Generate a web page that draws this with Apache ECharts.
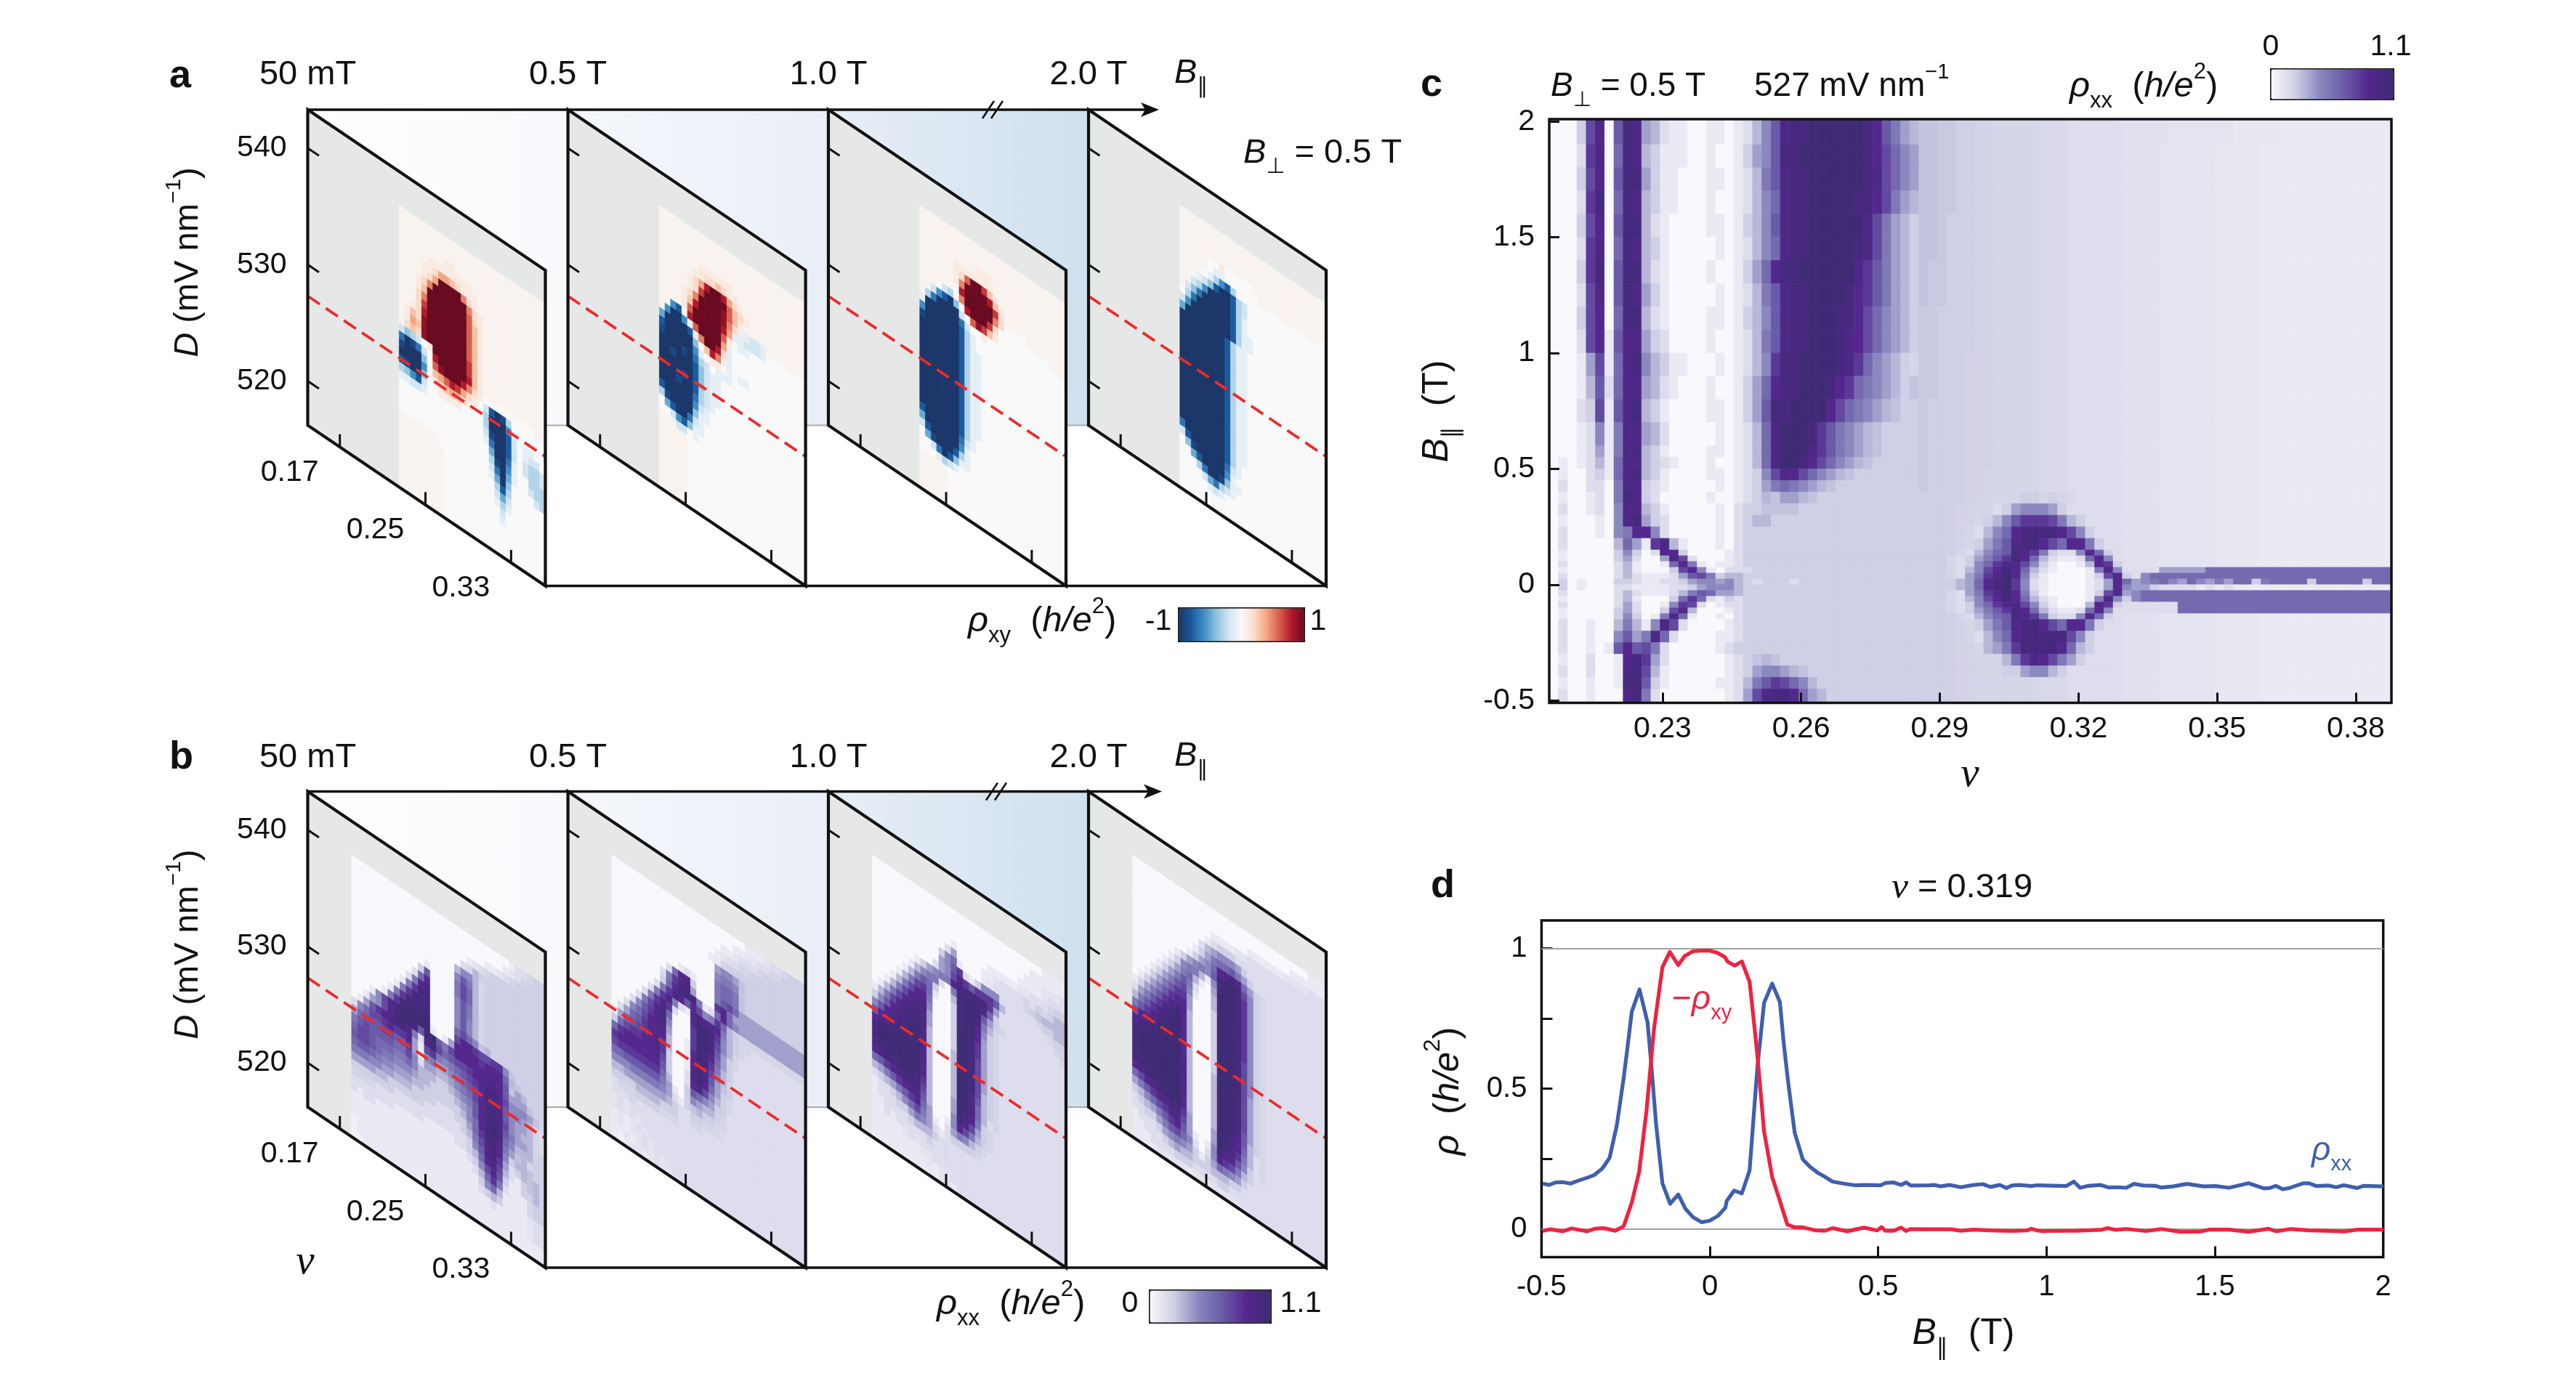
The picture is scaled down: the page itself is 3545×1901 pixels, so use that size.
<!DOCTYPE html>
<html>
<head>
<meta charset="utf-8">
<title>Figure</title>
<script src="https://cdn.jsdelivr.net/npm/echarts@6/dist/echarts.min.js"></script>
<style>
    html, body { margin: 0; background: #fff; }
    #main { width: 3545px; height: 1901px; }
</style>
</head>
<body>
<div id="main"></div>
<script>
// panel a, rho_xy: '.'=0 '-'=+0.04 A..J=+0.1..+1 a..j=-0.1..-1
var xyFrame50mT = [
    "------------- -------------", "------------- -------------", "------------- -------------",
    "--------AA--- -------------", "-----AAAAAAAA -------------", "----AABDDCBAA A------------",
    "----ABDJJJJEB A------------", "---ABEJJJJJJE BA-----------", "---ACJJJJJJJF BA-----------",
    "---BEJJJJJJJF CA-----------", "---BGJJJJJJJF CA-----------", "--ABHJJJJJJJF CA-----------",
    "-ACBIJJJJJJJF CA-----------", "-ADCIJJJJJJJF CA-----------", "-BCBIJJJJJJJG CA-----------",
    "bdcb.AJJJJJJG CA-----------", "gjigb.HJJJJJH CA-----------", "ijjjd.FIJJJHE BA.........--",
    "jjjjf.CDFHGDB A.bhjic......", "hijjd.ABCDCBA ..cjjjfa.....", "cdfhb..AAAA.. ..cjjjhb.aa..",
    "aabba........ ..bijjhb.abb.", "............. ..agjjhb.bccb", "............. ...ejjga.bccb",
    "............. ...cijfa..ccc", "............. ...bgjea..bcc", "-------...... ...aejd....bc",
    "--------..... ....chc......", "--------..... ....beb......", "--------..... ....aca......",
    "--------..... .....b.......", "--------..... .....a.......", "--------..... .............",
    "--------..... .............", "--------..... .............", "--------..... ............."
];
var xyFrame05T = [
    "------------- -------------", "------------- -------------", "------------- -------------",
    "------------- -------------", "-------AAAAAA -------------", "------AABBCBA A------------",
    "-----ABDHJJHD BA-----------", "-----ABGJJJJF CBA----------", "----ABEJJJJIF CA-----------",
    "----ACHJJJJIE Baabba-------", "----AFJJJJJHD aabbba.......", "--fh.HJJJJJFA .aa..........",
    "-fjjfaFJJJJDa .............", "ejjjjhaEJJHBa .............", "hjjjjjd.CHEAa .............",
    "ijjjjjfa.AA.a .aa..........", "jjjjijgcb.aaa .............", "jjijjjhdbaa.. .............",
    "jjjjjjhdbaa.. .............", "jjjjijhdbaa.. .............", "jjjijjhcbaa.. .............",
    "jjjjjjgcba... .............", "hjjjjjfba.... .............", "cijjjjdaa.... .............",
    ".ehjjgba..... .............", "..bfhdaa..... .............", "---bb.a...... .............",
    "-----........ .............", "-----........ .............", "-----........ .............",
    "-----........ .............", "-----........ .............", "-----........ .............",
    "-----........ .............", "-----........ .............", "-----........ ............."
];
var xyFrame10T = [
    "------------- -------------", "------------- -------------", "------------- -------------",
    "----------AAA -------------", "------AAAAAAA -------------", "------ABFJJGC A------------",
    "------AEJJJJH CA-----------", "------.HJJJJJ GB-----------", "---.bc.EJJJJJ EB....-------",
    "--bfhjd.HJJJG B.........---", "-cgjjjjb.FIGC A............", "ajjjjjjgb..A. .............",
    "fjjjjjjhca... .............", "ijjjjjjhca... .............", "jjjjjjjhcaa.. .............",
    "jjjjjjjhcaa.. .............", "jjjjjjjhcaa.. .............", "jjjjjjjhcaa.. .............",
    "jjjjjjjhcaa.. .............", "jjjjjjjhcaa.. .............", "jjjjjjjhcaa.. .............",
    "jjjjjjjhcaa.. .............", "jjjjjjjhcaa.. .............", "jjjjjjjhcaa.. .............",
    "jjjjjjjhcaa.. .............", "hjjjjjjhca... .............", "ejjjjjjgba... .............",
    "bhjjjjjfa.... .............", ".eijjjhca.... .............", "..bgjhdaa.... .............",
    "...acba...... .............", "-----........ .............", "-----........ .............",
    "-----........ .............", "-----........ .............", "-----........ ............."
];
var xyFrame20T = [
    "------------- -------------", "------------- -------------", "------------- -------------",
    "------------- -------------", "-----..A..... -------------", "-----.aa..... .-----------.",
    "----.acfhc... .............", "---abdhjjhcb. .............", "--bcfjjjjhcb. .............",
    "-bdgjjjjjhca. .............", ".cgjjjjjjhca. .............", "bfjjjjjjjhcaa .............",
    "ejjjjjjjjhcaa .............", "jjjjjjjjhcaa. .............", "jjjjjjjjhcaa. .............",
    "jjjjjjjjhcaa. .............", "jjjjjjjjhcaa. .............", "jjjjjjjjhcaa. .............",
    "jjjjjjjjhcaa. .............", "jjjjjjjjhcaa. .............", "jjjjjjjjhcaa. .............",
    "jjjjjjjjhcaa. .............", "jjjjjjjjhcaa. .............", "jjjjjjjjhcaa. .............",
    "jjjjjjjjhcaa. .............", "jjjjjjjjhcaa. .............", "jjjjjjjjhcaa. .............",
    "gjjjjjjjhcaa. .............", "bhjjjjjjhca.. .............", ".dijjjjjgba.. .............",
    "..ehjjjjfa... .............", "...cgjjidaa.. .............", "....begcba... .............",
    ".....aba..... .............", "............. .............", "............. ............."
];

// panel b, rho_xx: hex level 0..f = 0..1.1, other letters are in-between levels (fineLevels)
var xxFrame50mT = [
    "00000000 00000000 00000000 00122h33", "00000000 00000000 00000000 01g2h333", "00000000 00000000 00000011 g2h33333",
    "00000000 00000000 0001g2h3 33333333", "00000000 00000000 002h4333 33333333", "00000000 00000000 04664h33 33333333",
    "00000000 00000000 06974h33 33333333", "00000000 00001000 07a84h33 33333333", "00000000 00039000 07a84h33 33333333",
    "00000000 0028c000 06974h33 33333333", "00000000 027ce000 06974h33 33333333", "00000000 17bee000 06964h33 33333333",
    "00000001 7beee000 06964h33 33333333", "00000017 beeee000 08a86i43 33333333", "0000017b effff000 0accbaab b6i33333",
    "00016ade fffff101 5ccdcbcc c84i3333", "00156ace ffe9ff97 acccccdd c9i54333", "0159bcde ed72dfa8 9aabccdd c9555i33",
    "268aabcb bc51ab76 789abcee ca6665i3", "58999aa9 9b516755 6789acee c96654h2", "79a99998 8a625544 5678acee d96554h2",
    "8aa98887 78644433 45679cee da6544h2", "9aa98776 66544333 34569cef d97554h3", "89987665 55443333 33468cef d8644433",
    "77766554 44333322 23358bee c75i4h33", "55554433 33332222 22347ade c6344i33", "33333332 22222222 222369de b5234i43",
    "hhhh2222 22221111 122348cd a4213i43", "22222221 11111111 111236ac 93113343", "21221111 11111111 1111248b 72111h33",
    "11111111 11111111 11111368 41111h33", "11111111 11111111 11111234 31111g22", "11111111 11111111 11111112 11111g22",
    "m1111111 11111111 11111111 11111g22", "m1111111 11111111 11111111 11111111", "mm111111 11111111 11111111 11111111"
];
var xxFrame05T = [
    "00000000 00000000 00000011 1g22h333", "00000000 00000000 000011gg 22hh3333", "00000000 00000000 0011g222 h3333333",
    "00000000 00000000 01g22hh3 33333333", "00000000 00000000 11h33333 33333333", "00000000 00000000 05665i33 33333333",
    "00000000 00000000 06776i33 33333333", "00000000 00000000 07887i33 33333333", "00000000 00012100 07887i33 33333333",
    "00000000 028cd300 079a8555 55555555", "00000000 27bde500 0bc85555 55555555", "00000000 38ceee71 28c86555 55555555",
    "00000002 7bdc9ca6 7b843hhh hhhhhhhh", "00000027 bd721ded dc743hh2 22222222", "0000027b db200cff eb643h22 22222222",
    "000027ac e8000bff ea64h222 22222222", "000269bd e6000bff d953h222 22222222", "00268acd d5001bfe c8532222 22222222",
    "02589bcd c4001cfe b7432222 22222222", "1589abcd b4001cfd a64h2222 22222222", "38abbccd b3001dfd 95i32222 22222222",
    "8bcccccd a3002dfc 853h2222 22222222", "bccccccc 93002cda 643h2222 22222222", "abbbbbbb 84003986 53322222 22222222",
    "88999999 75103654 43h22222 22222222", "66677777 65213i43 3hh22222 22222222", "44555555 5432233h hh222222 22222222",
    "33334444 33322hh2 22222222 22222222", "2hhh3333 hhh22222 22222222 22222222", "222h2222 22222222 22222222 22222222",
    "g2g22222 22222222 22222222 22222222", "g2g2g222 22222222 22222222 22222222", "1g1g2g22 22222222 22222222 22222222",
    "1g1gg2g2 22222222 22222222 22222222", "11g1g2g2 g2222222 22222222 22222222", "1m1gg1g2 gg222222 22222222 22222222"
];
var xxFrame10T = [
    "00000000 00000000 00000000 00001111", "00000000 00000000 00000000 00111111", "00000000 00000000 00000000 0111ggg2",
    "00000000 00000000 00000000 1111g222", "00000000 00000100 00011111 gg222h33", "00000000 00002500 0011g222 2h23h344",
    "00000000 00036810 001g2222 2h3i4444", "00000000 000569b2 13666222 222h3344", "00000000 00256adb 9bbb9422 22222h33",
    "00000001 35677cee eeeb5222 222222h3", "00000014 677207ef fed83222 2222222h", "00000147 983004ef fe953h22 22222222",
    "0000147a b81003ef fd74h222 22222222", "000147ac c70003ef fc63h222 22222222", "00147acd d60003ef fc53h222 22222222",
    "0147acde d50003ff eb53h222 22222222", "147acdee d50003ff eb53h222 22222222", "369cdeef d40003ff ea53h222 22222222",
    "69cdeeff d40004ff ea53h222 22222222", "9cdeefff d40004ff ea53h222 22222222", "ceefffff d40004ff ea53h222 22222222",
    "efffffff d40004ff ea43h222 22222222", "efffffff c40004ff d943h222 22222222", "deffffff c40004ff d843h222 22222222",
    "cdeeeffe b40005ff d842h222 22222222", "89bcdeee a40005fe c73h2222 22222222", "4579bcdd 940006ed a53h2222 22222222",
    "234579bc 850016ca 743h2222 22222222", "1223468a 75102576 43h22222 22222222", "12223357 65212333 3h222222 22222222",
    "11222234 44322222 22222222 22222222", "11212222 23222222 22222222 22222222", "11111g2g 22222222 22222222 22222222",
    "11111111 gg222222 22222222 22222222", "11111111 1g1gg222 22222222 22222222", "11111111 111gg122 22222222 22222222"
];
var xxFrame20T = [
    "00000000 00000000 00000000 00000111", "00000000 00000000 00000000 00111111", "00000000 00000000 00011111 1gggg222",
    "00000000 00000111 1gg22222 22222222", "00000000 00001233 32222222 22222222", "00000000 00024566 65322222 22222222",
    "00000000 00135788 97532222 22222222", "00000000 013568cd ec853h22 22222222", "00000001 356769ef fea63h22 22222222",
    "00000013 677416ef feb63h22 22222222", "00000135 784105ff feb63h22 22222222", "00001357 972004ff feb63h22 22222222",
    "00013579 a61004ff feb63h22 22222222", "0013579b b50003ff feb63h22 22222222", "013579bc c50003ff feb63h22 22222222",
    "13579bde c40003ff feb63h22 22222222", "2579bdef c40003ff feb63h22 22222222", "479bdeff c40003ff fea63h22 22222222",
    "79bdefff c40003ff fea63h22 22222222", "9cdeffff c40003ff fea63h22 22222222", "ceefffff c40003ff fea63h22 22222222",
    "efffffff d40004ff fea53h22 22222222", "efffffff d40004ff fea53h22 22222222", "efffffff d40004ff fea53h22 22222222",
    "efffffff d40004ff fea53h22 22222222", "eeffffff d40004ff fea53h22 22222222", "cdefffff c40004ff fd953h22 22222222",
    "8acdefff c40004ff ec943h22 22222222", "579bcdee b50005ff ec842h22 22222222", "3468abdd a50005fe db742h22 22222222",
    "234579bc 951016ed c9632h22 22222222", "2233579a 862026cb a7432222 22222222", "12223567 65313587 65322222 22222222",
    "11222345 44333444 33222222 22222222", "11122223 33222233 22222222 22222222", "1111gggg g1gggggg gg222222 22222222"
];

// panel c, rho_xx: one string per row of cB, same levels as panel b
var cB = [2.01, 1.9, 1.8, 1.7, 1.6, 1.5, 1.4, 1.3, 1.2, 1.1, 1.0, 0.9, 0.8, 0.7, 0.6, 0.55, 0.5, 0.45, 0.4, 0.35, 0.3, 0.25, 0.2, 0.15,
    0.125, 0.1, 0.075, 0.05, 0.025, 0, -0.025, -0.05, -0.075, -0.1, -0.125, -0.15, -0.2, -0.25, -0.3, -0.35, -0.4, -0.45, -0.51];
var cRows = [
    "0003ad09ed 5421100110 12469deeff ffffec9754 iirr33qqhh hhhppp2222 22ooooogggg gggnnnnn11 11111111111",
    "0002bd08ed 4311100100 13569eefff ffffeca865 iirr33qqhh hhhppp2222 22ooooggg gggnnnnn11 11111111111",
    "0003ad09ee 5311000110 12479deeff ffffeda865 iirr33qqhh hhhppp2222 22ooooggg gggnnnnn11 11111111111",
    "0002be08ed 4311000100 12468deeff fffeeca754 iirr33qqhh hhhppp2222 22ooooggg gggnnnnn11 11111111111",
    "0003ad09ee 4210000110 13469deeff ffffda7543 iir333qqhh hhhppp2222 22ooooggg gggnnnnn11 11111111111",
    "0002bd08ed 4310000010 12468deeff fffeda7543 iir333qqhh hhhppp2222 22ooooggg gggnnnnn11 11111111111",
    "0003be09ee 4210000100 1358ceefff fffdb97543 irr333qqhh hhhppp2222 22ooooggg gggnnnnn11 11111111111",
    "0002ad09ed 5310000010 12479deeff ffecb97543 irr333qqhh hhhppp2222 22ooooggg gggnnnnn11 11111111111",
    "0003ac08ee 4210000110 13469deeff feeca86543 rr3333qqhh hhhppp2222 22ooooggg gggnnnnn11 11111111111",
    "0002ac19dd 5320000100 12479deeff fedca86543 rr3333qqhh hhhppp2222 22ooooggg gggnnnnn11 11111111111",
    "00015a18de 6431100010 1246beefff fedb86543h rr333qqqhh hhhppp2222 22ooooggg gggnnnnn11 11111111111",
    "00014928dd 5421000100 1358ceefff ecb876543i rr333qqqhh hhhppp2222 22ooooggg gggnnnnn11 11111111111",
    "00023a19de 4310000110 1359eeffff ca87654i33 r3333qqqhh hhhppp2222 22ooooggg gggnnnnn11 11111111111",
    "00012617dd 5420000010 1248dfffeb 97654i3333 r3333qqqhh hhhppp2222 22ooooggg gggnnnnn11 11111111111",
    "00012517de 4310000110 1248dfffdb 97654i3333 r3333qqqhh hhhppp2222 22ooooggg gggnnnnn11 11111111111",
    "01012418dd 4321000100 1248dffeca 8654i33333 r3333qqqhh hhhppp2222 22ooooggg gggnnnnn11 11111111111",
    "01002318de 4310000110 1236adca86 54i3333333 r3333qqhhh hhhppp2222 22ooooggg gggnnnnn11 11111111111",
    "02002207dd 3210000010 1235787654 i333333333 r3333qqhhh hhhppp2222 22ooooggg gggnnnnn11 11111111111",
    "01001207ed 3200000100 1234i554i3 3333333333 33333qqhhh h33h3hp222 22ooooggg gggnnnnn11 11111111111",
    "02001206dd 4310000010 233iiii333 3333333333 3333qqhh23 5666532222 22ooooggg gggnnnnn11 11111111111",
    "01000106de 5320000010 2344333333 3333333333 3333qqh346 9bbba74322 22ooooggg gggnnnnn11 11111111111",
    "020001067c c620000010 2333333333 3333333333 3333qh2468 ceeeeca632 22ooooggg gggnnnnn11 11111111111",
    "0200000485 1bd4100010 2333333333 3333333333 3333qh3579 deeca8cc73 22ooooggg gggnnnnn11 11111111111",
    "0100000363 02cc300001 2333333333 3333333333 3333h24689 edb73226c8 32ooooggg gggnnnnn11 11111111111",
    "0100000352 005da20001 2333333333 3333333333 333h23579b ec8421128c 62ooooggg gggnnnnn11 11111111111",
    "0200000241 0018c71011 2333333333 3333333333 333h2368bd da6310014c b3ooooggg gggnnnnn11 11111111111",
    "0100000241 0003ac6102 2233333333 3333333333 333h246ace c842100017 d622225555 5888888888 88888888888",
    "0200000242 111259a734 4333333333 3333333333 333h257bdf c731000013 ac32688888 8888888888 88888888888",
    "0301000332 1122356656 4323332333 3333333333 3333458cef b621000012 5d85678658 6575883788 88388888388",
    "0301000221 1112235666 4333333333 3333333333 3333458cef b621000012 5c65532222 1212111111 11111111111",
    "0200000242 1112479855 4333333333 3333333333 333h257bdf c731000013 ac56888888 8888888888 88888888888",
    "0100000241 00038b8213 2333333333 3333333333 333h246ace c842100017 d636888888 8888888888 88888888888",
    "0200000252 0016ba2012 2333333333 3333333333 333h2368bd da6310004c b322222288 8888888888 88888888888",
    "0100000352 003ac40001 2333333333 3333333333 333h23579b ec8421128c 6222222288 8888888888 88888888888",
    "0100000363 017d810010 2333333333 3333333333 3333h24689 edb73226c8 32ooooggg gggnnnnn11 11111111111",
    "0200100474 16da200001 2333333333 3333333333 3333qh3579 deeca8cc73 22ooooggg gggnnnnn11 11111111111",
    "0200100695 7d82000011 2333333333 3333333333 3333qh2468 ceeeeea632 22ooooggg gggnnnnn11 11111111111",
    "02001019c9 a720000012 3333333333 3333333333 3333qqh457 beeeec8432 22ooooggg gggnnnnn11 11111111111",
    "01002001ce b520000001 23i4i33333 3333333333 3333qqhhh4 7bdca75322 22ooooggg gggnnnnn11 11111111111",
    "02002001de a410000001 2356654i33 3333333333 3333qqhhh3 3566432222 22ooooggg gggnnnnn11 11111111111",
    "01001001ee 9310000011 2479ba8643 3333333333 3333qqhhhh hhhppp2222 22ooooggg gggnnnnn11 11111111111",
    "02001000de 7200000001 25adeec854 3333333333 3333qqhhhh hhhppp2222 22ooooggg gggnnnnn11 11111111111"
];

// panel d
var xxB = [-0.497, -0.477, -0.458, -0.436, -0.414, -0.392, -0.364, -0.344, -0.32, -0.298, -0.276, -0.256, -0.245, -0.232, -0.209, -0.185, -0.174, -0.16, -0.141, -0.118, -0.094, -0.072, -0.05, -0.024, 0, 0.024, 0.046, 0.05, 0.072, 0.095, 0.118, 0.13, 0.141, 0.161, 0.185, 0.208, 0.219, 0.232, 0.252, 0.276, 0.298, 0.32, 0.342, 0.364, 0.397, 0.43, 0.464, 0.508, 0.521, 0.546, 0.568, 0.583, 0.596, 0.651, 0.668, 0.684, 0.712, 0.745, 0.784, 0.811, 0.833, 0.861, 0.881, 0.897, 0.919, 0.955, 0.973, 1.058, 1.081, 1.1, 1.125, 1.161, 1.184, 1.206, 1.237, 1.26, 1.287, 1.323, 1.341, 1.376, 1.417, 1.466, 1.502, 1.542, 1.6, 1.645, 1.663, 1.681, 1.701, 1.721, 1.762, 1.78, 1.802, 1.838, 1.86, 1.883, 1.923, 1.941, 2];
var xxRho = [0.162, 0.157, 0.166, 0.167, 0.162, 0.172, 0.183, 0.192, 0.215, 0.253, 0.372, 0.539, 0.644, 0.774, 0.854, 0.736, 0.586, 0.377, 0.163, 0.09, 0.123, 0.071, 0.042, 0.024, 0.03, 0.047, 0.076, 0.1, 0.137, 0.127, 0.209, 0.4, 0.574, 0.806, 0.875, 0.809, 0.667, 0.528, 0.343, 0.248, 0.221, 0.201, 0.186, 0.169, 0.162, 0.156, 0.157, 0.156, 0.164, 0.166, 0.157, 0.166, 0.155, 0.156, 0.157, 0.152, 0.157, 0.149, 0.157, 0.16, 0.15, 0.157, 0.146, 0.155, 0.157, 0.153, 0.156, 0.153, 0.169, 0.147, 0.154, 0.157, 0.148, 0.149, 0.147, 0.161, 0.155, 0.154, 0.148, 0.152, 0.161, 0.152, 0.153, 0.147, 0.163, 0.145, 0.146, 0.154, 0.142, 0.146, 0.163, 0.163, 0.153, 0.155, 0.149, 0.156, 0.146, 0.154, 0.152];
var xyB = [-0.497, -0.475, -0.436, -0.411, -0.364, -0.342, -0.315, -0.281, -0.256, -0.232, -0.21, -0.188, -0.166, -0.141, -0.119, -0.094, -0.075, -0.05, -0.028, 0, 0.022, 0.044, 0.053, 0.074, 0.095, 0.118, 0.13, 0.141, 0.161, 0.185, 0.208, 0.23, 0.252, 0.276, 0.315, 0.342, 0.364, 0.408, 0.458, 0.497, 0.51, 0.521, 0.546, 0.568, 0.583, 0.596, 0.651, 0.717, 0.745, 0.784, 0.833, 0.866, 0.897, 0.942, 0.955, 0.973, 0.991, 1, 1.09, 1.161, 1.181, 1.206, 1.237, 1.296, 1.341, 1.399, 1.457, 1.484, 1.542, 1.6, 1.659, 1.681, 1.726, 1.78, 1.824, 1.883, 1.923, 2];
var xyRho = [-0.007, -0.001, -0.008, 0.002, -0.008, 0.001, 0.003, -0.006, 0.01, 0.094, 0.204, 0.424, 0.713, 0.933, 0.988, 0.941, 0.973, 0.99, 0.992, 0.992, 0.985, 0.97, 0.953, 0.939, 0.954, 0.881, 0.748, 0.62, 0.348, 0.186, 0.1, 0.016, 0.006, 0.006, -0.005, -0.006, 0.003, -0.008, 0.005, -0.005, 0.007, -0.006, -0.006, 0.005, -0.007, 0, -0.001, -0.001, -0.006, -0.002, -0.005, -0.006, -0.007, -0.005, 0.001, -0.005, -0.008, -0.007, -0.006, -0.003, 0.003, -0.003, 0, -0.007, 0, -0.01, -0.009, -0.002, -0.002, -0.01, 0.001, -0.008, 0, -0.005, -0.006, -0.009, -0.002, -0.002];

var frameLabels = ["50 mT", "0.5 T", "1.0 T", "2.0 T"];
var nuTicks = [0.17, 0.25, 0.33];
var dTicks = [520, 530, 540];
var cutD = 527.3;
var nuMin = 0.14, nuMax = 0.362, dMin = 516.2, dMax = 543.3;

// colours and layout
var purples = ['#f9f8fc', '#cfcfe5', '#8a88bf', '#6a5aa8', '#54278f', '#3f2a75'];
var rdbu = ['#1b3668', '#1a5a9e', '#3f8fc5', '#8fc2de', '#d3e5f1', '#f9f9f9', '#fbdccb', '#f4a582', '#d6604d', '#b2182b', '#6a0a20'];
var wallStops = [['#ffffff', '#f7f9fc'], ['#f5f7fb', '#e9eff7'], ['#e8eef7', '#cfe0ee']];
var frameLefts = [423.5, 781.6, 1140, 1498];
var frameW = 327, frameH = 434.5, frameShear = 221 / 327;
var rowTops = [151, 1089.5];
var ink = '#111';
var FONT = '"Liberation Sans", "DejaVu Sans"';
var fineLevels = { m: 0.5, n: 1.25, g: 1.5, o: 1.75, p: 2.25, h: 2.5, q: 2.75, r: 3.25, i: 3.5 };

function decodeXY(c) {
    if (c === '.') return 0;
    if (c === '-') return 0.04;
    if (c >= 'a') return -(c.charCodeAt(0) - 96) / 10;
    return (c.charCodeAt(0) - 64) / 10;
}
function decodeXX(c) {
    var lvl = fineLevels[c] !== undefined ? fineLevels[c] : parseInt(c, 16);
    return lvl / 15 * 1.1;
}
function parseFrame(rows, decode, nCols, nu0) {
    var dNu = (nuMax - nu0) / nCols, dD = (540.4 - dMin) / 36, out = [];
    rows.forEach(function (r, j) {
        r = r.replace(/ /g, '');
        for (var i = 0; i < nCols; i++) {
            out.push([nu0 + (i + 0.5) * dNu, 540.4 - (j + 0.5) * dD, decode(r.charAt(i) || r.charAt(r.length - 1))]);
        }
    });
    return { data: out, dNu: dNu, dD: dD };
}
function sheared(p, cs) {
    return [p[0], p[1] + (p[0] - cs.x) * frameShear];
}

var grids = [], xAxes = [], yAxes = [], series = [];
var heatA = [], heatB = [];

// sheared panels a and b
function addFrame(row, k, rows) {
    var gi = grids.length;
    grids.push({ left: frameLefts[k], top: rowTops[row], width: frameW, height: frameH });
    xAxes.push({ gridIndex: gi, type: 'value', min: nuMin, max: nuMax, show: false });
    yAxes.push({
        gridIndex: gi, type: 'value', min: dMin, max: dMax, show: k === 0,
        axisLine: { show: false }, axisTick: { show: false }, splitLine: { show: false },
        axisLabel: {
            customValues: dTicks, margin: 29, fontSize: 41, fontFamily: FONT, color: ink,
            padding: [0, 0, 13, 0]
        }
    });
    var anchor = [[nuMin, dMin]];

    series.push({
        type: 'custom', xAxisIndex: gi, yAxisIndex: gi, z: 1, silent: true, data: anchor,
        renderItem: function (params, api) {
            var cs = params.coordSys, tl = api.coord([nuMin, dMax]), bl = api.coord([nuMin, dMin]);
            var tr = sheared(api.coord([nuMax, dMax]), cs), br = sheared(api.coord([nuMax, dMin]), cs);
            var kids = [];
            if (k < 3) {
                var w = frameLefts[k + 1] - frameLefts[k];
                kids.push({
                    type: 'rect', shape: { x: tl[0], y: tl[1], width: w, height: bl[1] - tl[1] },
                    style: { fill: new echarts.graphic.LinearGradient(0, 0, 1, 0, [
                        { offset: 0, color: wallStops[k][0] }, { offset: 1, color: wallStops[k][1] }]) }
                });
                kids.push({
                    type: 'line', shape: { x1: bl[0] + frameW, y1: bl[1], x2: bl[0] + w, y2: bl[1] },
                    style: { stroke: '#aaa', lineWidth: 2 }
                });
            }
            kids.push({ type: 'polygon', shape: { points: [tl, tr, br, bl] }, style: { fill: '#e6e8e7' } });
            return { type: 'group', children: kids };
        }
    });

    var heat = parseFrame(rows, row === 0 ? decodeXY : decodeXX, row === 0 ? 26 : 32, row === 0 ? 0.2254 : 0.181);
    (row === 0 ? heatA : heatB).push(series.length);
    series.push({
        type: 'custom', xAxisIndex: gi, yAxisIndex: gi, z: 2, silent: true, data: heat.data,
        encode: { x: 0, y: 1 },
        renderItem: function (params, api) {
            var cs = params.coordSys, nu = api.value(0), d = api.value(1);
            var hx = heat.dNu / 2, hy = heat.dD / 2, color = api.visual('color');
            return {
                type: 'polygon',
                shape: { points: [
                    sheared(api.coord([nu - hx, d + hy]), cs), sheared(api.coord([nu + hx, d + hy]), cs),
                    sheared(api.coord([nu + hx, d - hy]), cs), sheared(api.coord([nu - hx, d - hy]), cs)
                ] },
                style: { fill: color, stroke: color, lineWidth: 0.7 }
            };
        }
    });

    series.push({
        type: 'custom', xAxisIndex: gi, yAxisIndex: gi, z: 3, silent: true, data: anchor,
        renderItem: function (params, api) {
            var cs = params.coordSys, tl = api.coord([nuMin, dMax]), bl = api.coord([nuMin, dMin]);
            var tr = sheared(api.coord([nuMax, dMax]), cs), br = sheared(api.coord([nuMax, dMin]), cs);
            var kids = [];
            function seg(a, b, w, col) {
                kids.push({
                    type: 'line', shape: { x1: a[0], y1: a[1], x2: b[0], y2: b[1] },
                    style: { stroke: col || ink, lineWidth: w }
                });
            }
            // wall top and floor front
            if (k < 3) {
                var w = frameLefts[k + 1] - frameLefts[k];
                seg(tl, [tl[0] + w, tl[1]], 3.4);
                seg(br, [br[0] + w, br[1]], 3.6);
            }
            dTicks.forEach(function (v) {
                seg(sheared(api.coord([nuMin, v]), cs), sheared(api.coord([nuMin + 0.0105, v]), cs), 3);
            });
            nuTicks.forEach(function (v) {
                seg(sheared(api.coord([v, dMin]), cs), sheared(api.coord([v, dMin + 1.1]), cs), 3);
                if (k === 0) {
                    var p = sheared(api.coord([v, dMin]), cs);
                    kids.push({
                        type: 'text', x: p[0] - 69, y: p[1] + 35,
                        style: { text: String(v), font: '41px ' + FONT, fill: ink, textAlign: 'center', textVerticalAlign: 'middle' }
                    });
                }
            });
            kids.push({
                type: 'line',
                shape: { x1: tl[0], y1: api.coord([nuMin, cutD])[1], x2: tr[0], y2: sheared(api.coord([nuMax, cutD]), cs)[1] },
                style: { stroke: '#ee2a2a', lineWidth: 3.8, lineDash: [20, 10] }
            });
            kids.push({ type: 'polygon', shape: { points: [tl, tr, br, bl] }, style: { stroke: ink, lineWidth: 4.2, fill: 'none', lineJoin: 'miter' } });
            return { type: 'group', children: kids };
        }
    });
}
[xyFrame50mT, xyFrame05T, xyFrame10T, xyFrame20T].forEach(function (rows, k) { addFrame(0, k, rows); });
[xxFrame50mT, xxFrame05T, xxFrame10T, xxFrame20T].forEach(function (rows, k) { addFrame(1, k, rows); });

// panel c
var cGrid = grids.length;
var cNu0 = 0.2055, cNuStep = 0.002, cNuEnd = 0.3877;
grids.push({ left: 2132, top: 164, width: 1159, height: 803.5 });
xAxes.push({
    gridIndex: cGrid, type: 'value', min: cNu0, max: cNuEnd, splitLine: { show: false }, z: 5,
    axisLine: { show: false, onZero: false },
    axisTick: { inside: true, length: 14, customValues: [0.23, 0.26, 0.29, 0.32, 0.35, 0.38], lineStyle: { color: ink, width: 3 } },
    axisLabel: { customValues: [0.23, 0.26, 0.29, 0.32, 0.35, 0.38], margin: 16, fontSize: 41, fontFamily: FONT, color: ink }
});
yAxes.push({
    gridIndex: cGrid, type: 'value', min: -0.51, max: 2.01, splitLine: { show: false }, z: 5,
    axisLine: { show: false, onZero: false },
    axisTick: { inside: true, length: 14, customValues: [-0.5, 0, 0.5, 1, 1.5, 2], lineStyle: { color: ink, width: 3 } },
    axisLabel: { customValues: [-0.5, 0, 0.5, 1, 1.5, 2], margin: 20, fontSize: 41, fontFamily: FONT, color: ink }
});
var cData = [];
cRows.forEach(function (r, j) {
    r = r.replace(/ /g, '');
    for (var i = 0; i < 91; i++) {
        var nu = cNu0 + i * cNuStep;
        cData.push([nu, Math.min(nu + cNuStep, cNuEnd), cB[j + 1], cB[j], decodeXX(r.charAt(i) || '1')]);
    }
});
var heatC = series.length;
series.push({
    type: 'custom', xAxisIndex: cGrid, yAxisIndex: cGrid, z: 2, silent: true, data: cData,
    encode: { x: [0, 1], y: [2, 3] },
    renderItem: function (params, api) {
        var a = api.coord([api.value(0), api.value(3)]), b = api.coord([api.value(1), api.value(2)]);
        var color = api.visual('color');
        return {
            type: 'rect', shape: { x: a[0], y: a[1], width: b[0] - a[0], height: b[1] - a[1] },
            style: { fill: color, stroke: color, lineWidth: 0.7 }
        };
    }
});
series.push({
    type: 'custom', xAxisIndex: cGrid, yAxisIndex: cGrid, z: 3, silent: true, data: [[cNu0, -0.51]],
    renderItem: function (params, api) {
        var a = api.coord([cNu0, 2.01]), b = api.coord([cNuEnd, -0.51]);
        return {
            type: 'rect', shape: { x: a[0], y: a[1], width: b[0] - a[0], height: b[1] - a[1] },
            style: { fill: 'none', stroke: ink, lineWidth: 3.5 }
        };
    }
});

// panel d
var dGrid = grids.length;
grids.push({ left: 2121.4, top: 1267, width: 1158.3, height: 463.4, show: true, borderColor: ink, borderWidth: 3.5, backgroundColor: 'transparent' });
xAxes.push({
    gridIndex: dGrid, type: 'value', min: -0.5, max: 2, interval: 0.5, splitLine: { show: false },
    axisLine: { show: false, onZero: false },
    axisTick: { inside: true, length: 15, lineStyle: { color: ink, width: 3 } },
    axisLabel: { margin: 22, fontSize: 40, fontFamily: FONT, color: ink }
});
yAxes.push({
    gridIndex: dGrid, type: 'value', min: -0.1, max: 1.1, splitLine: { show: false },
    axisLine: { show: false, onZero: false },
    axisTick: { inside: true, length: 15, customValues: [0, 0.25, 0.5, 0.75, 1], lineStyle: { color: ink, width: 3 } },
    axisLabel: { customValues: [0, 0.5, 1], margin: 20, fontSize: 40, fontFamily: FONT, color: ink }
});
function zip(xs, ys) {
    return xs.map(function (x, i) { return [x, ys[i]]; });
}
series.push({
    type: 'line', xAxisIndex: dGrid, yAxisIndex: dGrid, z: 2, silent: true, data: [], symbol: 'none',
    markLine: {
        silent: true, symbol: 'none', animation: false, z: 1, label: { show: false },
        lineStyle: { color: '#a0a0a0', width: 2, type: 'solid' },
        data: [{ yAxis: 0 }, { yAxis: 1 }]
    }
});
series.push({
    type: 'line', xAxisIndex: dGrid, yAxisIndex: dGrid, z: 3, silent: true, data: zip(xxB, xxRho), symbol: 'none',
    lineStyle: { color: '#3f5fae', width: 5.2, join: 'round' }
});
series.push({
    type: 'line', xAxisIndex: dGrid, yAxisIndex: dGrid, z: 4, silent: true, data: zip(xyB, xyRho), symbol: 'none',
    lineStyle: { color: '#ee2340', width: 5.2, join: 'round' }
});

// text with sub and superscripts
function richSet(size) {
    var small = Math.round(size * 0.64);
    var lh = Math.round(size * 1.45);
    return {
        t: { fontSize: size, fontFamily: FONT, lineHeight: lh },
        i: { fontSize: size, fontFamily: FONT, fontStyle: 'italic', lineHeight: lh },
        n: { fontSize: size * 1.1, fontFamily: '"Liberation Serif"', fontStyle: 'italic', lineHeight: lh },
        sub: { fontSize: small, fontFamily: FONT, verticalAlign: 'bottom', lineHeight: Math.round(size * 0.95) },
        sup: { fontSize: small, fontFamily: FONT, verticalAlign: 'top', lineHeight: Math.round(size * 0.95) }
    };
}
function label(x, y, text, size, opts) {
    opts = opts || {};
    return {
        type: 'text', x: x, y: y, rotation: opts.rotation || 0, z: 20, silent: true,
        style: {
            text: text, rich: richSet(size), fontSize: size, fontFamily: FONT, fontWeight: opts.weight || 'normal',
            fill: opts.color || ink, textAlign: opts.align || 'center', textVerticalAlign: 'middle'
        }
    };
}
var ROT = Math.PI / 2;
var rhoUnits = '{t|  (}{i|h/e}{sup|2}{t|)}';
var texts = [
    label(233, 105, 'a', 54, { weight: 'bold', align: 'left' }),
    label(233, 1043, 'b', 54, { weight: 'bold', align: 'left' }),
    label(1955, 117, 'c', 54, { weight: 'bold', align: 'left' }),
    label(1969, 1220, 'd', 54, { weight: 'bold', align: 'left' }),
    label(1616, 101, '{i|B}{sub|∥}', 47, { align: 'left' }),
    label(1616, 1041, '{i|B}{sub|∥}', 47, { align: 'left' }),
    label(1711, 211, '{i|B}{sub|⊥}{t| = 0.5 T}', 47, { align: 'left' }),
    label(259, 361, '{i|D}{t| (mV nm}{sup|−1}{t|)}', 47, { rotation: ROT }),
    label(259, 1300, '{i|D}{t| (mV nm}{sup|−1}{t|)}', 47, { rotation: ROT }),
    label(420, 1738, '{n|ν}', 52),
    label(1332, 855, '{i|ρ}{sub|xy}' + rhoUnits, 49, { align: 'left' }),
    label(1594, 856, '-1', 41),
    label(1814, 856, '1', 41),
    label(1289, 1795, '{i|ρ}{sub|xx}' + rhoUnits, 49, { align: 'left' }),
    label(1555, 1795, '0', 41),
    label(1790, 1795, '1.1', 41),
    label(2134, 119, '{i|B}{sub|⊥}{t| = 0.5 T}', 46, { align: 'left' }),
    label(2414, 119, '{t|527 mV nm}{sup|−1}', 46, { align: 'left' }),
    label(2848, 119, '{i|ρ}{sub|xx}' + rhoUnits, 49, { align: 'left' }),
    label(3125, 65, '0', 41),
    label(3290, 65, '1.1', 41),
    label(2711, 1067, '{n|ν}', 52),
    label(1978, 566, '{i|B}{sub|∥}{t|  (T)}', 50, { rotation: ROT }),
    label(2700, 1222, '{n|ν}{t| = 0.319}', 47),
    label(1993, 1502, '{i|ρ}{t|  (}{i|h/e}{sup|2}{t|)}', 50, { rotation: ROT }),
    label(2702, 1836, '{i|B}{sub|∥}{t|  (T)}', 50),
    label(2301, 1376, '{t|−}{i|ρ}{sub|xy}', 46, { align: 'left', color: '#ee2340' }),
    label(3181, 1584, '{i|ρ}{sub|xx}', 46, { align: 'left', color: '#3f5fae' })
];
frameLabels.forEach(function (s, k) {
    texts.push(label(frameLefts[k], 103, s, 47));
    texts.push(label(frameLefts[k], 1043, s, 47));
});
// B|| arrows and axis breaks
[[151, 1595, 1365], [1089.5, 1599, 1370]].forEach(function (a) {
    var y = a[0], end = a[1], brk = a[2];
    texts.push({ type: 'line', z: 20, silent: true, shape: { x1: 1498, y1: y, x2: end - 10, y2: y }, style: { stroke: ink, lineWidth: 3.4 } });
    texts.push({ type: 'polygon', z: 20, silent: true, shape: { points: [[end, y], [end - 25, y - 10], [end - 19, y], [end - 25, y + 10]] }, style: { fill: ink } });
    texts.push({ type: 'line', z: 20, silent: true, shape: { x1: brk - 13, y1: y + 12, x2: brk + 3, y2: y - 12 }, style: { stroke: ink, lineWidth: 2.6 } });
    texts.push({ type: 'line', z: 20, silent: true, shape: { x1: brk - 1, y1: y + 12, x2: brk + 15, y2: y - 12 }, style: { stroke: ink, lineWidth: 2.6 } });
});

function colorBar(seriesIndex, min, max, colors, left, top, length, thick) {
    return {
        type: 'continuous', seriesIndex: seriesIndex, dimension: seriesIndex === heatC ? 4 : 2,
        min: min, max: max, inRange: { color: colors }, calculable: false, hoverLink: false,
        orient: 'horizontal', left: left, top: top, itemWidth: thick, itemHeight: length,
        padding: 0, borderColor: ink, borderWidth: 3, text: null
    };
}

var myChart = echarts.init(document.getElementById('main'), null, { renderer: 'canvas' });
myChart.setOption({
    animation: false,
    backgroundColor: '#fff',
    grid: grids,
    xAxis: xAxes,
    yAxis: yAxes,
    visualMap: [
        colorBar(heatA, -1, 1, rdbu, 1621, 836, 172, 45),
        colorBar(heatB, 0, 1.1, purples, 1581, 1775, 166, 44),
        colorBar(heatC, 0, 1.1, purples, 3124, 94, 168, 41)
    ],
    graphic: { elements: texts },
    series: series
});
</script>
</body>
</html>
